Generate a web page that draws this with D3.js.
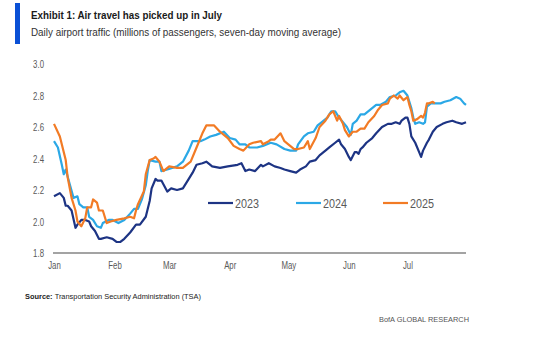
<!DOCTYPE html>
<html>
<head>
<meta charset="utf-8">
<script src="https://cdn.jsdelivr.net/npm/d3@7"></script>
<style>
  html, body { margin: 0; padding: 0; background: #fff; }
  svg { display: block; }
  text { font-family: "Liberation Sans", Arial, sans-serif; }
  .narrow { font-family: "Liberation Sans Narrow", "Arial Narrow", "Liberation Sans", sans-serif; }
</style>
</head>
<body>
<svg id="chart" width="547" height="342"></svg>
<script>
// Day offsets from 1 January, and the seven-day moving average (millions)
const days2023 = [0,3,5,6,7,9,11,12,14,16,18,19,21,23,24,27,30,32,34,36,39,42,44,47,49,50,52,53,55,58,60,63,66,68,71,73,76,78,81,85,89,94,96,98,100,103,106,107,110,113,116,118,121,124,126,129,131,134,136,139,141,144,146,147,149,151,152,154,155,156,157,158,160,163,165,168,171,173,175,177,178,180,181,182,183,185,187,188,189,191,192,194,196,199,201,204,206,209,211];
const vals2023 = [2.16,2.18,2.15,2.10,2.10,2.07,1.96,1.98,2.01,2.01,2.00,1.97,1.94,1.89,1.89,1.90,1.89,1.87,1.87,1.89,1.93,1.98,1.98,2.03,2.13,2.21,2.27,2.26,2.26,2.19,2.21,2.20,2.21,2.25,2.31,2.36,2.37,2.38,2.35,2.34,2.35,2.36,2.37,2.32,2.33,2.32,2.36,2.35,2.37,2.35,2.34,2.33,2.32,2.31,2.33,2.35,2.38,2.39,2.42,2.45,2.47,2.50,2.52,2.49,2.46,2.41,2.39,2.44,2.44,2.43,2.46,2.47,2.50,2.53,2.56,2.60,2.62,2.62,2.63,2.62,2.64,2.66,2.66,2.62,2.54,2.50,2.44,2.41,2.45,2.50,2.52,2.57,2.60,2.62,2.63,2.64,2.63,2.62,2.63];

const days2024 = [0,2,4,5,6,8,10,12,13,15,17,18,20,22,24,25,28,30,33,36,39,41,43,45,47,48,49,52,54,55,58,63,66,69,71,75,77,80,83,87,90,93,95,98,100,104,107,111,114,118,121,124,125,128,130,133,135,137,140,142,144,146,148,150,152,153,155,157,159,162,165,167,170,172,175,177,179,181,183,184,185,187,189,190,191,193,195,198,200,203,206,208,210,211];
const vals2024 = [2.51,2.47,2.36,2.30,2.33,2.24,2.15,2.16,2.11,2.09,2.09,2.03,2.01,1.97,1.96,1.99,2.01,2.01,1.99,2.01,2.05,2.08,2.08,2.14,2.23,2.32,2.39,2.38,2.38,2.32,2.33,2.35,2.38,2.45,2.51,2.51,2.52,2.54,2.55,2.57,2.53,2.52,2.49,2.49,2.47,2.47,2.48,2.50,2.49,2.46,2.45,2.45,2.49,2.54,2.56,2.57,2.61,2.63,2.66,2.70,2.70,2.66,2.63,2.60,2.55,2.62,2.64,2.68,2.68,2.71,2.74,2.74,2.76,2.79,2.80,2.82,2.83,2.80,2.72,2.66,2.62,2.63,2.62,2.63,2.73,2.75,2.75,2.75,2.76,2.77,2.79,2.78,2.75,2.74];

const days2025 = [0,3,6,7,9,11,12,14,16,17,19,20,22,23,25,27,29,32,36,39,41,42,43,46,47,49,51,52,54,56,59,63,66,70,73,76,78,82,85,89,92,95,97,100,102,106,107,110,111,113,116,118,120,123,125,128,130,131,134,136,139,141,143,145,146,148,149,151,153,155,157,159,161,164,166,168,171,172,174,176,177,179,181,182,183,184,186,188,189,190,191,192,194,195];
const vals2025 = [2.62,2.54,2.39,2.28,2.15,2.07,2.00,1.97,2.02,2.09,2.09,2.14,2.12,2.07,2.07,1.99,2.00,2.01,2.02,2.03,2.02,2.07,2.11,2.19,2.30,2.39,2.40,2.41,2.38,2.32,2.35,2.34,2.34,2.38,2.47,2.56,2.61,2.61,2.57,2.53,2.48,2.46,2.45,2.49,2.50,2.51,2.49,2.51,2.52,2.52,2.56,2.51,2.49,2.46,2.46,2.47,2.51,2.46,2.53,2.60,2.64,2.68,2.70,2.64,2.67,2.62,2.58,2.54,2.57,2.57,2.59,2.59,2.63,2.67,2.71,2.74,2.75,2.78,2.80,2.78,2.80,2.77,2.79,2.74,2.70,2.64,2.65,2.67,2.66,2.69,2.75,2.75,2.76,2.75];

const seriesNames = ["2023", "2024", "2025"];
const seriesColors = ["#1d3484", "#2ba8e6", "#f27b25"];
const yTicks = [1.8, 2.0, 2.2, 2.4, 2.6, 2.8, 3.0];
const monthLabels = ["Jan", "Feb", "Mar", "Apr", "May", "Jun", "Jul"];

const toDate = d => new Date(Date.UTC(2025, 0, 1 + d));
const series = [
  { name: seriesNames[0], color: seriesColors[0], pts: days2023.map((d, i) => [toDate(d), vals2023[i]]) },
  { name: seriesNames[1], color: seriesColors[1], pts: days2024.map((d, i) => [toDate(d), vals2024[i]]) },
  { name: seriesNames[2], color: seriesColors[2], pts: days2025.map((d, i) => [toDate(d), vals2025[i]]) }
];

const svg = d3.select("#chart");

// Heading block
svg.append("rect").attr("x", 15).attr("y", 3).attr("width", 5).attr("height", 41).attr("fill", "#0a50d6");
svg.append("text").attr("x", 31).attr("y", 19)
  .attr("font-size", 10.5).attr("font-weight", "bold").attr("fill", "#1a1a1a")
  .attr("textLength", 191).attr("lengthAdjust", "spacingAndGlyphs")
  .text("Exhibit 1: Air travel has picked up in July");
svg.append("text").attr("x", 31).attr("y", 36)
  .attr("font-size", 10.5).attr("fill", "#333")
  .attr("textLength", 310).attr("lengthAdjust", "spacingAndGlyphs")
  .text("Daily airport traffic (millions of passengers, seven-day moving average)");

// Scales
const x = d3.scaleUtc().domain([toDate(0), toDate(211)]).range([54, 466]);
const y = d3.scaleLinear().domain([1.8, 3.0]).range([253, 64]);

// Squeeze axis and legend labels horizontally to a condensed look
const condense = sel => sel.each(function () {
  const t = d3.select(this);
  const w = this.getComputedTextLength();
  t.attr("textLength", w * 0.68).attr("lengthAdjust", "spacingAndGlyphs");
});

// Y tick labels
svg.append("g").attr("transform", "translate(44,0)")
  .call(d3.axisLeft(y).tickValues(yTicks).tickFormat(d3.format(".1f")).tickSize(0).tickPadding(0))
  .call(g => g.select(".domain").remove())
  .call(g => g.selectAll("text").attr("font-size", 11.5).attr("fill", "#595959")
    .attr("font-family", "'Liberation Sans', Arial, sans-serif").call(condense));

// X axis: baseline plus month labels
const monthTicks = monthLabels.map((m, i) => new Date(Date.UTC(2025, i, 1)));
svg.append("g").attr("transform", "translate(0,253)")
  .call(d3.axisBottom(x).tickValues(monthTicks).tickFormat((d, i) => monthLabels[i]).tickSize(0).tickPadding(8))
  .call(g => g.select(".domain").attr("stroke", "#a3a3a3").attr("stroke-width", 2)
    .attr("d", `M${x.range()[0] - 1},0H${x.range()[1]}`))
  .call(g => g.selectAll("text").attr("font-size", 11.5).attr("fill", "#595959")
    .attr("font-family", "'Liberation Sans', Arial, sans-serif").call(condense));

// Lines
const line = d3.line().x(d => x(d[0])).y(d => y(d[1])).curve(d3.curveLinear);
svg.append("g").selectAll("path").data(series).join("path")
  .attr("d", s => line(s.pts))
  .attr("fill", "none")
  .attr("stroke", s => s.color)
  .attr("stroke-width", 2.2)
  .attr("stroke-linejoin", "round");

// Legend
const legendX = [208, 296, 383];
const legend = svg.append("g").selectAll("g").data(series).join("g")
  .attr("transform", (s, i) => `translate(${legendX[i]},203)`);
legend.append("line").attr("x1", 0).attr("x2", 25).attr("y1", 0).attr("y2", 0)
  .attr("stroke", s => s.color).attr("stroke-width", 2.2);
legend.append("text").attr("x", 27).attr("y", 4.5)
  .attr("font-size", 12).attr("fill", "#595959").text(s => s.name)
  .attr("textLength", 24).attr("lengthAdjust", "spacingAndGlyphs");

// Footer
const src = svg.append("text").attr("x", 25).attr("y", 299).attr("font-size", 7.5).attr("fill", "#222")
  .attr("textLength", 176).attr("lengthAdjust", "spacingAndGlyphs");
src.append("tspan").attr("font-weight", "bold").text("Source: ");
src.append("tspan").text("Transportation Security Administration (TSA)");
svg.append("text").attr("x", 379).attr("y", 322).attr("font-size", 8).attr("fill", "#555")
  .attr("textLength", 90).attr("lengthAdjust", "spacingAndGlyphs")
  .text("BofA GLOBAL RESEARCH");
</script>
</body>
</html>
